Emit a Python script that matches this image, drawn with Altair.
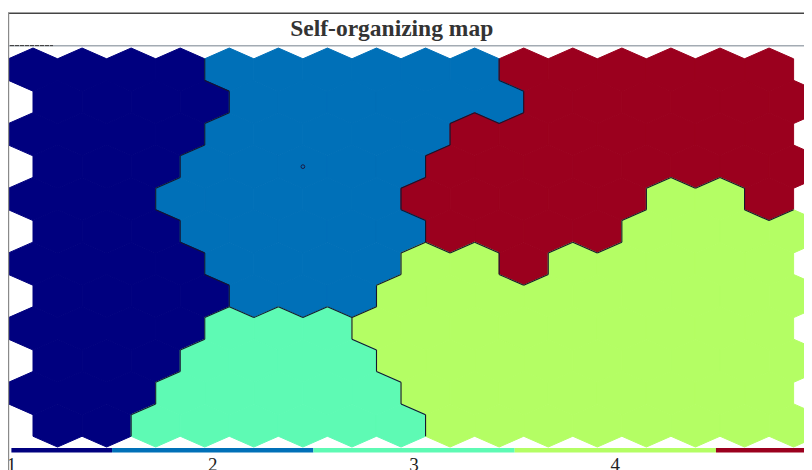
import altair as alt
import pandas as pd

# ---------------- data ----------------
TITLE = "Self-organizing map"
CLUSTERS = [1, 2, 3, 4, 5]
CLUSTER_COLORS = ["#00007f", "#0070b8", "#5efab4", "#b4fe64", "#9b001e"]

# cluster label of every SOM neuron, one list per map row (top to bottom)
ROW_0 = [1, 1, 1, 1, 2, 2, 2, 2, 2, 2, 5, 5, 5, 5, 5, 5]
ROW_1 = [1, 1, 1, 1, 2, 2, 2, 2, 2, 2, 5, 5, 5, 5, 5, 5]
ROW_2 = [1, 1, 1, 1, 2, 2, 2, 2, 2, 5, 5, 5, 5, 5, 5, 5]
ROW_3 = [1, 1, 1, 2, 2, 2, 2, 2, 5, 5, 5, 5, 5, 5, 5, 5]
ROW_4 = [1, 1, 1, 2, 2, 2, 2, 2, 5, 5, 5, 5, 5, 4, 4, 5]
ROW_5 = [1, 1, 1, 2, 2, 2, 2, 2, 5, 5, 5, 5, 4, 4, 4, 4]
ROW_6 = [1, 1, 1, 1, 2, 2, 2, 2, 4, 4, 5, 4, 4, 4, 4, 4]
ROW_7 = [1, 1, 1, 1, 2, 2, 2, 4, 4, 4, 4, 4, 4, 4, 4, 4]
ROW_8 = [1, 1, 1, 1, 3, 3, 3, 4, 4, 4, 4, 4, 4, 4, 4, 4]
ROW_9 = [1, 1, 1, 3, 3, 3, 3, 4, 4, 4, 4, 4, 4, 4, 4, 4]
ROW_10 = [1, 1, 1, 3, 3, 3, 3, 3, 4, 4, 4, 4, 4, 4, 4, 4]
ROW_11 = [1, 1, 3, 3, 3, 3, 3, 3, 4, 4, 4, 4, 4, 4, 4, 4]
GRID = [ROW_0, ROW_1, ROW_2, ROW_3, ROW_4, ROW_5,
        ROW_6, ROW_7, ROW_8, ROW_9, ROW_10, ROW_11]

# small marker drawn on one neuron
MARK_ROW = [3]
MARK_COL = [5]

# colorbar tick labels
BAR_TICKS = [1, 2, 3, 4, 5]

# ---------------- tables ----------------
NR, NC = len(GRID), len(GRID[0])
hex_rows = []
for r in range(NR):
    for c in range(NC):
        hex_rows.append({"x": c + 0.5 * (r % 2), "y": r, "cluster": GRID[r][c]})
hex_df = pd.DataFrame(hex_rows)


def cl(r, c):
    if 0 <= r < NR and 0 <= c < NC:
        return GRID[r][c]
    return None


edges = []
for r in range(NR):
    for c in range(NC):
        v = GRID[r][c]
        cx, cy = c + 0.5 * (r % 2), r
        n = cl(r, c + 1)
        if n is not None and n != v:
            edges.append((cx + 0.5, cy - 1 / 3, cx + 0.5, cy + 1 / 3))
        cr = c + 1 if r % 2 == 1 else c
        cl_ = c if r % 2 == 1 else c - 1
        n = cl(r + 1, cr)
        if n is not None and n != v:
            edges.append((cx + 0.5, cy + 1 / 3, cx, cy + 2 / 3))
        n = cl(r + 1, cl_)
        if n is not None and n != v:
            edges.append((cx, cy + 2 / 3, cx - 0.5, cy + 1 / 3))
edge_df = pd.DataFrame(edges, columns=["x1", "y1", "x2", "y2"])

mark_df = pd.DataFrame({"x": [c + 0.5 * (r % 2) for r, c in zip(MARK_ROW, MARK_COL)],
                        "y": MARK_ROW})

bar_df = pd.DataFrame({
    "cluster": BAR_TICKS,
    "x0": [max(v - 0.5, BAR_TICKS[0]) for v in BAR_TICKS],
    "x1": [min(v + 0.5, BAR_TICKS[-1]) for v in BAR_TICKS],
})
lab_df = pd.DataFrame({"v": BAR_TICKS, "t": [str(v) for v in BAR_TICKS]})

# ---------------- scales ----------------
W, H = 796, 462
xs = alt.Scale(domain=[-0.5095, 15.712], nice=False, zero=False)
ys = alt.Scale(domain=[-1.904, 12.377], nice=False, zero=False, reverse=True)
bs = alt.Scale(domain=[0.9831, 4.9374], nice=False, zero=False)
cs = alt.Scale(domain=CLUSTERS, range=CLUSTER_COLORS)

HEX = "M0,-0.8792L1,-0.4396L1,0.4396L0,0.8792L-1,0.4396L-1,-0.4396Z"

hexes = alt.Chart(hex_df).mark_point(
    shape=HEX, size=2408, filled=True, opacity=1, strokeWidth=1, clip=True
).encode(
    x=alt.X("x:Q", scale=xs, axis=None),
    y=alt.Y("y:Q", scale=ys, axis=None),
    fill=alt.Fill("cluster:O", scale=cs, legend=None),
    stroke=alt.Stroke("cluster:O", scale=cs, legend=None),
)

borders = alt.Chart(edge_df).mark_rule(color="#15152e", strokeWidth=1.1, clip=True).encode(
    x=alt.X("x1:Q", scale=xs, axis=None),
    y=alt.Y("y1:Q", scale=ys, axis=None),
    x2="x2:Q",
    y2="y2:Q",
)

marker = alt.Chart(mark_df).mark_point(
    shape="circle", size=14, filled=False, color="#1a1a44", strokeWidth=1, opacity=1
).encode(
    x=alt.X("x:Q", scale=xs, axis=None),
    y=alt.Y("y:Q", scale=ys, axis=None),
)

bar = alt.Chart(bar_df).mark_rect().encode(
    x=alt.X("x0:Q", scale=bs, axis=None),
    x2="x1:Q",
    y=alt.value(440),
    y2=alt.value(444.5),
    fill=alt.Fill("cluster:O", scale=cs, legend=None),
)

labels = alt.Chart(lab_df).mark_text(
    font="Liberation Serif", fontSize=19, color="#222222", baseline="alphabetic", align="center"
).encode(
    x=alt.X("v:Q", scale=bs, axis=None),
    y=alt.value(463),
    text="t:N",
)

title = alt.Chart(pd.DataFrame({"t": [TITLE]})).mark_text(
    font="Liberation Serif", fontSize=23.5, fontWeight="bold", color="#333333",
    baseline="alphabetic", align="center"
).encode(x=alt.value(383.7), y=alt.value(28.3), text="t:N")

top_line = alt.Chart(pd.DataFrame({"a": [0]})).mark_rule(color="#444444", strokeWidth=1.5).encode(
    x=alt.value(0), x2=alt.value(W), y=alt.value(5.2)
)
sep_line = alt.Chart(pd.DataFrame({"a": [0]})).mark_rule(color="#a3abb3", strokeWidth=1.5).encode(
    x=alt.value(0), x2=alt.value(W), y=alt.value(37.8)
)
sep_dark = alt.Chart(pd.DataFrame({"a": [0]})).mark_rule(
    color="#3a3a3a", strokeWidth=1, strokeDash=[4, 1]
).encode(x=alt.value(2), x2=alt.value(45), y=alt.value(37.6))
left_line = alt.Chart(pd.DataFrame({"a": [0]})).mark_rule(color="#8a8a8a", strokeWidth=1.2).encode(
    x=alt.value(0.6), y=alt.value(5), y2=alt.value(H)
)

chart = alt.layer(
    hexes, borders, marker, bar, labels, title, top_line, sep_line, sep_dark, left_line
).resolve_scale(x="independent", y="independent").properties(
    width=W, height=H, padding=0, autosize=alt.AutoSizeParams(type="none"),
    background="white",
).configure_view(stroke=None)

chart.save("out.html", embed_options={"renderer": "svg", "actions": False})
